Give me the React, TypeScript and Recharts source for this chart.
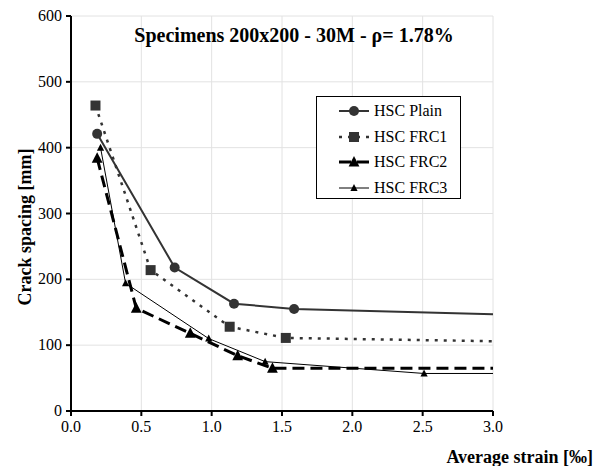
import { LineChart, Line, XAxis, YAxis, CartesianGrid } from 'recharts'

// values
const plainStrain = [0.186, 0.737, 1.159, 1.586, 3.0]
const plainSpacing = [421, 218, 163, 155, 147]
const frc1Strain = [0.174, 0.566, 1.128, 1.527, 3.0]
const frc1Spacing = [464, 214, 128, 111, 106]
const frc2Strain = [0.186, 0.464, 0.848, 1.185, 1.432, 3.0]
const frc2Spacing = [384, 156, 118, 84, 65, 65]
const frc3Strain = [0.21, 0.388, 0.979, 1.38, 2.51, 3.0]
const frc3Spacing = [400, 194, 110, 75, 57, 57]

const xTicks = [0, 0.5, 1, 1.5, 2, 2.5, 3]
const yTicks = [0, 100, 200, 300, 400, 500, 600]

const toRows = (xs: number[], ys: number[]) => xs.map((x, i) => ({ strain: x, spacing: ys[i] }))

const FONT = '"Liberation Serif", "Times New Roman", serif'

type Marker = 'circle' | 'square' | 'bigTri' | 'smallTri'

function markerShape(kind: Marker, cx: number, cy: number, key?: any) {
  if (kind === 'circle') return <circle key={key} cx={cx} cy={cy} r={5} fill="#333" />
  if (kind === 'square') return <rect key={key} x={cx - 5} y={cy - 5} width={10} height={10} fill="#333" />
  const s = kind === 'bigTri' ? 6 : 4
  return (
    <path
      key={key}
      d={`M${cx},${cy - s} L${cx + s * 0.9},${cy + s * 0.75} L${cx - s * 0.9},${cy + s * 0.75} Z`}
      fill="#000"
    />
  )
}

// no marker on the line that runs to the right edge
const makeDot = (kind: Marker) => (props: any) => {
  const { cx, cy, payload, index } = props
  if (payload.strain >= 3) return <g key={index} />
  return markerShape(kind, cx, cy, index)
}

const series = [
  { name: 'HSC Plain', rows: toRows(plainStrain, plainSpacing), stroke: '#333', width: 2, dash: undefined, marker: 'circle' as Marker },
  { name: 'HSC FRC1', rows: toRows(frc1Strain, frc1Spacing), stroke: '#333', width: 2.5, dash: '3 6', marker: 'square' as Marker },
  { name: 'HSC FRC2', rows: toRows(frc2Strain, frc2Spacing), stroke: '#000', width: 3, dash: '12 6', marker: 'bigTri' as Marker },
  { name: 'HSC FRC3', rows: toRows(frc3Strain, frc3Spacing), stroke: '#000', width: 1, dash: undefined, marker: 'smallTri' as Marker },
]

function XTick(props: any) {
  const { x, y, payload } = props
  return (
    <text x={x} y={y + 14} textAnchor="middle" fontFamily={FONT} fontSize={16} fill="#000">
      {Number(payload.value).toFixed(1)}
    </text>
  )
}

function YTick(props: any) {
  const { x, y, payload } = props
  return (
    <text x={x - 2} y={y + 5} textAnchor="end" fontFamily={FONT} fontSize={16} fill="#000">
      {payload.value}
    </text>
  )
}

function LegendBox() {
  return (
    <div
      style={{
        position: 'absolute',
        left: 316,
        top: 96,
        width: 143,
        height: 101,
        border: '1px solid #000',
        background: '#fff',
        fontFamily: FONT,
        fontSize: 16,
        color: '#000',
      }}
    >
      {series.map((s, i) => (
        <div
          key={s.name}
          style={{ position: 'absolute', left: 21, top: 3 + i * 25.7, height: 22, display: 'flex', alignItems: 'center' }}
        >
          <svg width={32} height={22}>
            <line x1={1} y1={11} x2={31} y2={11} stroke={s.stroke} strokeWidth={s.width} strokeDasharray={s.dash} />
            {markerShape(s.marker, 16, 11)}
          </svg>
          <span style={{ marginLeft: 4, lineHeight: '22px' }}>{s.name}</span>
        </div>
      ))}
    </div>
  )
}

export default function App() {
  return (
    <div style={{ position: 'absolute', left: 0, top: 0, width: 603, height: 466, background: '#fff', fontFamily: FONT }}>
      <LineChart width={603} height={466} margin={{ top: 16, right: 110, left: 0, bottom: 25 }}>
        <CartesianGrid stroke="#e2e2e2" strokeWidth={1} />
        <XAxis
          type="number"
          dataKey="strain"
          domain={[0, 3]}
          ticks={xTicks}
          allowDuplicatedCategory={false}
          height={30}
          axisLine={{ stroke: '#000', strokeWidth: 2 }}
          tickLine={{ stroke: '#000', strokeWidth: 2 }}
          tickSize={5}
          tick={<XTick />}
          label={{
            content: () => (
              <text x={593} y={463} textAnchor="end" fontFamily={FONT} fontWeight="bold" fontSize={18} fill="#000">
                Average strain [‰]
              </text>
            ),
          }}
        />
        <YAxis
          type="number"
          dataKey="spacing"
          domain={[0, 600]}
          ticks={yTicks}
          width={71}
          axisLine={{ stroke: '#000', strokeWidth: 2 }}
          tickLine={{ stroke: '#000', strokeWidth: 2 }}
          tickSize={5}
          tick={<YTick />}
          label={{
            content: () => (
              <text
                x={31}
                y={227}
                transform="rotate(-90 31 227)"
                textAnchor="middle"
                fontFamily={FONT}
                fontWeight="bold"
                fontSize={18}
                fill="#000"
              >
                Crack spacing [mm]
              </text>
            ),
          }}
        />
        {series.map((s) => (
          <Line
            key={s.name}
            name={s.name}
            data={s.rows}
            dataKey="spacing"
            type="linear"
            stroke={s.stroke}
            strokeWidth={s.width}
            strokeDasharray={s.dash}
            dot={makeDot(s.marker)}
            activeDot={false}
            isAnimationActive={false}
          />
        ))}
      </LineChart>
      <LegendBox />
      <div
        style={{
          position: 'absolute',
          left: 94,
          top: 22,
          width: 400,
          textAlign: 'center',
          fontSize: 20,
          fontWeight: 'bold',
          lineHeight: '26px',
          color: '#000',
        }}
      >
        Specimens 200x200 - 30M - ρ= 1.78%
      </div>
    </div>
  )
}
